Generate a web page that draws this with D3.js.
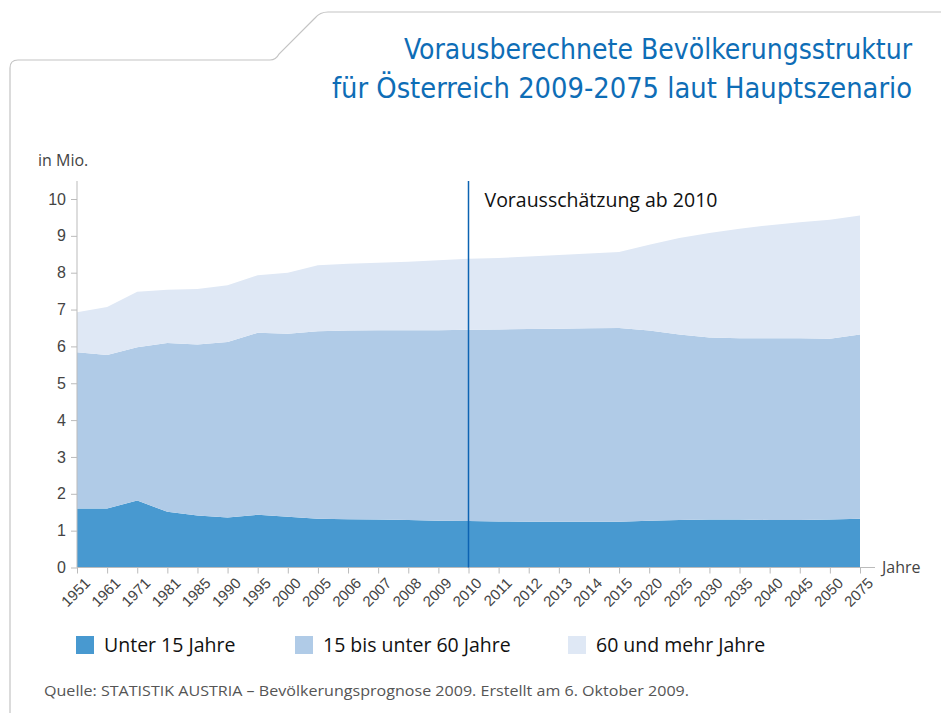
<!doctype html>
<html lang="de">

<head>
    <meta charset="utf-8">
    <title>Vorausberechnete Bevölkerungsstruktur</title>
    <script src="https://cdn.jsdelivr.net/npm/d3@7"></script>
    <style>
        body {
            margin: 0;
            background: #fff;
        }

        svg {
            font-family: "Open Sans", "Noto Sans", sans-serif;
        }

        .axis text {
            fill: #444;
            font-size: 15px;
        }

        .axis line,
        .axis path {
            stroke: #bbb;
        }
    </style>
</head>

<body>
    <svg></svg>
    <script>
        var width = 941;
        var height = 713;

        // x categories (Jahre)
        var years = ["1951", "1961", "1971", "1981", "1985", "1990", "1995", "2000", "2005",
            "2006", "2007", "2008", "2009", "2010", "2011", "2012", "2013", "2014", "2015",
            "2020", "2025", "2030", "2035", "2040", "2045", "2050", "2075"];

        // values in Mio.
        var unter15 = [1.60, 1.60, 1.82, 1.51, 1.41, 1.36, 1.43, 1.38, 1.32, 1.31, 1.30, 1.29, 1.27,
            1.26, 1.25, 1.24, 1.24, 1.24, 1.24, 1.27, 1.29, 1.30, 1.30, 1.29, 1.29, 1.30, 1.32];
        var von15bis60 = [4.24, 4.17, 4.16, 4.58, 4.64, 4.76, 4.94, 4.96, 5.09, 5.12, 5.14, 5.15, 5.17,
            5.19, 5.21, 5.23, 5.24, 5.25, 5.26, 5.16, 5.03, 4.94, 4.92, 4.93, 4.93, 4.91, 5.00];
        var ab60 = [1.09, 1.30, 1.50, 1.45, 1.51, 1.54, 1.56, 1.66, 1.79, 1.81, 1.83, 1.86, 1.90,
            1.93, 1.94, 1.97, 2.00, 2.03, 2.06, 2.33, 2.62, 2.84, 2.97, 3.07, 3.15, 3.23, 3.23];

        var seriesNames = ["Unter 15 Jahre", "15 bis unter 60 Jahre", "60 und mehr Jahre"];
        var colors = ["#4899d0", "#b0cbe7", "#dfe8f5"];
        var yTicks = [0, 1, 2, 3, 4, 5, 6, 7, 8, 9, 10];

        var svg = d3.select('svg').attr('width', width).attr('height', height);

        // frame with tab
        svg.append("path")
            .attr("d", "M10,720 L10,68 Q10,60 18,60 L270,60 Q276,60 279,54 L315,18 Q320,12 328,12 L945,12")
            .attr("fill", "none")
            .attr("stroke", "#c4c4c4")
            .attr("stroke-width", 1.2);

        // title, two lines
        var titleFont = "'Liberation Sans Narrow', 'DejaVu Sans Condensed', sans-serif";
        svg.append("text")
            .attr("x", 912).attr("y", 59)
            .attr("fill", "#0e6db6").attr("font-family", titleFont).attr("font-size", "29px")
            .attr("text-anchor", "end")
            .attr("textLength", 508).attr("lengthAdjust", "spacingAndGlyphs")
            .text("Vorausberechnete Bevölkerungsstruktur");
        svg.append("text")
            .attr("x", 912).attr("y", 98)
            .attr("fill", "#0e6db6").attr("font-family", titleFont).attr("font-size", "29px")
            .attr("text-anchor", "end")
            .attr("textLength", 580).attr("lengthAdjust", "spacingAndGlyphs")
            .text("für Österreich 2009-2075 laut Hauptszenario");

        var table = years.map(function (y, i) {
            return { year: y, a: unter15[i], b: von15bis60[i], c: ab60[i] };
        });
        var stack = d3.stack().keys(["a", "b", "c"]);
        var layers = stack(table);

        var x = d3.scalePoint().domain(years).range([77, 860]);
        var y = d3.scaleLinear().domain([0, 10]).range([567.5, 199]);

        var area = d3.area()
            .x(function (d) { return x(d.data.year); })
            .y0(function (d) { return y(d[0]); })
            .y1(function (d) { return y(d[1]); });

        svg.selectAll(".layer")
            .data(layers)
            .enter()
            .append("path")
            .attr("class", "layer")
            .attr("d", area)
            .attr("fill", function (d, i) { return colors[i]; });

        // y axis
        var yAxis = svg.append("g")
            .attr("class", "axis")
            .attr("transform", "translate(77,0)")
            .call(d3.axisLeft(y).tickValues(yTicks).tickSize(6).tickSizeOuter(0).tickPadding(5));
        yAxis.select(".domain").attr("d", "M0,181V567.5");
        yAxis.selectAll("text").style("font-size", "16px");

        // x axis
        var xAxis = svg.append("g")
            .attr("class", "axis")
            .attr("transform", "translate(0,567.5)")
            .call(d3.axisBottom(x).tickSize(6).tickSizeOuter(0));
        xAxis.select(".domain").attr("d", "M77,0H875");
        xAxis.selectAll("text")
            .attr("x", 0).attr("y", 0).attr("dy", "0.35em")
            .attr("transform", "translate(10,13) rotate(-45)")
            .style("text-anchor", "end");

        svg.append("text")
            .attr("x", 882).attr("y", 573)
            .attr("fill", "#444").attr("font-size", "16px")
            .text("Jahre");

        svg.append("text")
            .attr("x", 38).attr("y", 166)
            .attr("fill", "#444").attr("font-size", "16px")
            .text("in Mio.");

        // forecast marker
        svg.append("line")
            .attr("x1", x("2010")).attr("x2", x("2010"))
            .attr("y1", 181).attr("y2", 567.5)
            .attr("stroke", "#0c63b2").attr("stroke-width", 1.5);
        svg.append("text")
            .attr("x", x("2010") + 16).attr("y", 207)
            .attr("fill", "#111").attr("font-size", "19.5px")
            .text("Vorausschätzung ab 2010");

        // legend
        var legendX = [76, 295, 568];
        var legend = svg.selectAll(".legend")
            .data(seriesNames)
            .enter()
            .append("g")
            .attr("class", "legend")
            .attr("transform", function (d, i) { return "translate(" + legendX[i] + ",636)"; });
        legend.append("rect")
            .attr("width", 18).attr("height", 18)
            .attr("fill", function (d, i) { return colors[i]; });
        legend.append("text")
            .attr("x", 28).attr("y", 16)
            .attr("fill", "#111").attr("font-size", "19.5px")
            .text(function (d) { return d; });

        svg.append("text")
            .attr("x", 44).attr("y", 696)
            .attr("fill", "#555").attr("font-size", "15px")
            .attr("textLength", 645).attr("lengthAdjust", "spacingAndGlyphs")
            .text("Quelle: STATISTIK AUSTRIA – Bevölkerungsprognose 2009. Erstellt am 6. Oktober 2009.");
    </script>

</body>

</html>
